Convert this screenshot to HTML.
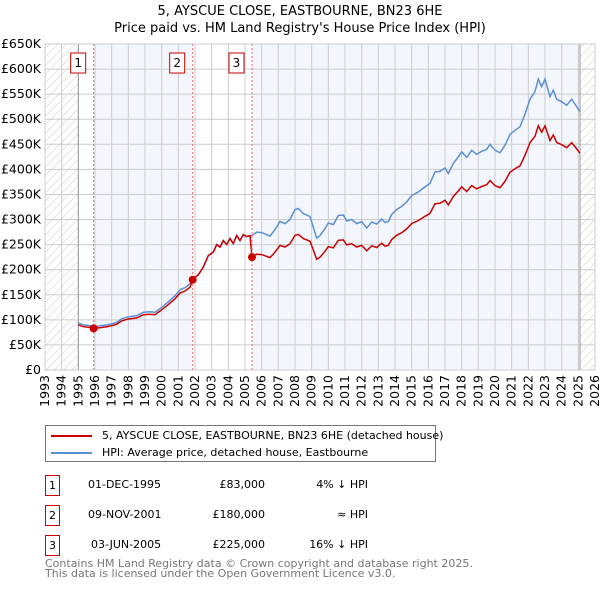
<!DOCTYPE html>
<html><head><meta charset="utf-8"><style>
body{margin:0;background:#fff;font-family:"DejaVu Sans","Liberation Sans",sans-serif;}
svg{display:block}
#tbl div{white-space:nowrap}
</style></head><body>
<svg id="c" width="600" height="590" xmlns="http://www.w3.org/2000/svg"></svg>
<script>
const hpiYears=[1995.0,1995.3,1995.6,1995.92,1996.3,1996.7,1997.0,1997.3,1997.6,1998.0,1998.5,1998.9,1999.3,1999.6,2000.0,2000.4,2000.8,2001.1,2001.4,2001.7,2001.86,2002.2,2002.5,2002.8,2003.1,2003.3,2003.5,2003.7,2003.9,2004.1,2004.3,2004.5,2004.7,2004.9,2005.1,2005.3,2005.42,2005.7,2006.0,2006.5,2006.8,2007.1,2007.4,2007.7,2008.0,2008.2,2008.5,2008.9,2009.1,2009.3,2009.5,2009.8,2010.0,2010.3,2010.6,2010.9,2011.1,2011.4,2011.7,2012.0,2012.3,2012.6,2012.9,2013.2,2013.4,2013.6,2013.8,2014.1,2014.4,2014.7,2015.0,2015.4,2015.8,2016.1,2016.4,2016.7,2017.0,2017.2,2017.5,2017.8,2018.0,2018.3,2018.6,2018.9,2019.2,2019.5,2019.7,2020.0,2020.3,2020.6,2020.9,2021.2,2021.5,2021.8,2022.1,2022.4,2022.6,2022.8,2023.0,2023.3,2023.5,2023.7,2024.0,2024.3,2024.6,2024.9,2025.1];
const hpiValues=[94,90,89,86.5,88,90,92,95,102,106,108,115,116,115,125,136,148,160,164,172,180,190,205,228,235,250,245,258,250,262,252,268,258,270,266,268,268,275,274,267,280,296,292,300,320,322,312,306,285,263,268,282,293,290,308,309,297,300,292,296,283,295,291,301,294,296,310,320,326,335,348,355,365,372,395,396,403,392,412,425,435,424,438,430,436,440,450,438,433,448,470,478,485,510,540,555,580,565,580,545,558,540,535,528,540,525,515];
const saleYears=[1995.92,2001.86,2005.42];
const salePrices=[83,180,225];
const saleLabels=["1","2","3"];
const yTicks=[0,50,100,150,200,250,300,350,400,450,500,550,600,650];
const yTickLabels=["£0","£50K","£100K","£150K","£200K","£250K","£300K","£350K","£400K","£450K","£500K","£550K","£600K","£650K"];
const xTicks=[1993,1994,1995,1996,1997,1998,1999,2000,2001,2002,2003,2004,2005,2006,2007,2008,2009,2010,2011,2012,2013,2014,2015,2016,2017,2018,2019,2020,2021,2022,2023,2024,2025,2026];

const svg=document.getElementById('c');const NS='http://www.w3.org/2000/svg';
const L=45,R=595,T=44,B=370,X0=1993,X1=2026,YMAX=650;
const sx=y=>L+(y-X0)/(X1-X0)*(R-L);
const sy=v=>B-v/YMAX*(B-T);
function mk(tag,attrs,parent){const e=document.createElementNS(NS,tag);for(const k in attrs)e.setAttribute(k,attrs[k]);(parent||svg).appendChild(e);return e;}

const defs=mk('defs',{});
const pat=mk('pattern',{id:'hatch',width:6,height:6,patternUnits:'userSpaceOnUse',patternTransform:'rotate(45)'},defs);
mk('line',{x1:0,y1:0,x2:0,y2:6,stroke:'#ccc','stroke-width':1},pat);

let e;
e=mk('rect',{x:L,y:T,width:R-L,height:B-T,fill:'#fff'});


e=mk('rect',{x:L,y:T,width:sx(1995)-L,height:B-T,fill:'url(#hatch)'});


e=mk('rect',{x:sx(2025.1),y:T,width:R-sx(2025.1),height:B-T,fill:'url(#hatch)'});


e=mk('rect',{x:sx(saleYears[0]),y:T,width:sx(saleYears[1])-sx(saleYears[0]),height:B-T,fill:'#eef3fc',opacity:0.7});


e=mk('rect',{x:sx(saleYears[2]),y:T,width:sx(2025.1)-sx(saleYears[2]),height:B-T,fill:'#eef3fc',opacity:0.7});



for(let i=0;i<yTicks.length;i++){
  e=mk('line',{x1:L,x2:R,y1:sy(yTicks[i]),y2:sy(yTicks[i]),stroke:'#ccc','stroke-width':1});
  
  
  e=mk('text',{x:L-4,y:sy(yTicks[i])+4,'text-anchor':'end','font-size':12.5,fill:'#000'});
  e.textContent=yTickLabels[i];
  
  
}
for(const t of xTicks){
  e=mk('line',{x1:sx(t),x2:sx(t),y1:T,y2:B,stroke:'#ccc','stroke-width':1});
  
  
  e=mk('text',{x:0,y:0,'text-anchor':'end','font-size':12.5,fill:'#000',transform:`translate(${sx(t)+4},${B+5}) rotate(-90)`});
  e.textContent=t;
  
  
}
e=mk('line',{x1:sx(1995),x2:sx(1995),y1:T,y2:B,stroke:'#999','stroke-width':1});


e=mk('line',{x1:sx(2025.1),x2:sx(2025.1),y1:T,y2:B,stroke:'#999','stroke-width':1});



function hpiAt(y){for(let i=0;i<hpiYears.length-1;i++){if(y>=hpiYears[i]&&y<=hpiYears[i+1]){const f=(y-hpiYears[i])/(hpiYears[i+1]-hpiYears[i]);return hpiValues[i]+f*(hpiValues[i+1]-hpiValues[i]);}}return hpiValues[hpiValues.length-1];}
function scaleAt(y){let k=0;for(let i=0;i<saleYears.length;i++){if(y>=saleYears[i]-1e-9)k=i;}return salePrices[k]/hpiAt(saleYears[k]);}

let dB='';hpiYears.forEach((y,i)=>{dB+=(i?'L':'M')+sx(y).toFixed(1)+','+sy(hpiValues[i]).toFixed(1);});
e=mk('path',{d:dB,fill:'none',stroke:'#5b8fd4','stroke-width':1.5});



let dR='';
hpiYears.forEach((y,i)=>{
  for(let s=0;s<saleYears.length;s++){
    if(i>0&&hpiYears[i-1]<saleYears[s]&&y>saleYears[s]){const h=hpiAt(saleYears[s]);dR+='L'+sx(saleYears[s]).toFixed(1)+','+sy(h*scaleAt(saleYears[s]-0.001)).toFixed(1)+'L'+sx(saleYears[s]).toFixed(1)+','+sy(salePrices[s]).toFixed(1);}
  }
  dR+=(i?'L':'M')+sx(y).toFixed(1)+','+sy(hpiValues[i]*scaleAt(y)).toFixed(1);
});
e=mk('path',{d:dR,fill:'none',stroke:'#cc0000','stroke-width':1.5});



for(let i=0;i<saleYears.length;i++){
  e=mk('line',{x1:sx(saleYears[i]),x2:sx(saleYears[i]),y1:T,y2:B,stroke:'#ee6666','stroke-width':1,'stroke-dasharray':'2,2'});
  
  
  e=mk('circle',{cx:sx(saleYears[i]),cy:sy(salePrices[i]),r:4,fill:'#cc0000'});
  
  
  const g=mk('g',{});
  
  
  mk('rect',{x:sx(saleYears[i])-23,y:53,width:15,height:20,fill:'#fff',stroke:'#cc0000','stroke-width':1},g);
  const t=mk('text',{x:sx(saleYears[i])-15.5,y:67,'text-anchor':'middle','font-size':12,fill:'#000'},g);
  t.textContent=saleLabels[i];
}
e=mk('rect',{x:L,y:T,width:R-L,height:B-T,fill:'none',stroke:'#ccc'});


</script>
<div style="position:absolute;left:0;top:3px;width:600px;text-align:center;font-size:13px;line-height:17px;color:#000">5, AYSCUE CLOSE, EASTBOURNE, BN23 6HE<br>Price paid vs. HM Land Registry's House Price Index (HPI)</div>
<div style="position:absolute;left:45px;top:425px;width:389px;height:35px;border:1px solid #777;font-size:11px">
 <div style="position:absolute;left:5px;top:3px;white-space:nowrap"><span style="display:inline-block;width:41px;height:2px;background:#cc0000;vertical-align:middle;margin-right:10px"></span>5, AYSCUE CLOSE, EASTBOURNE, BN23 6HE (detached house)</div>
 <div style="position:absolute;left:5px;top:20px;white-space:nowrap"><span style="display:inline-block;width:41px;height:2px;background:#5b8fd4;vertical-align:middle;margin-right:10px"></span>HPI: Average price, detached house, Eastbourne</div>
</div>
<div id="tbl" style="position:absolute;left:0;top:0;font-size:11px">
 <div>
  <div style="position:absolute;left:45px;top:475px;width:13px;height:19px;border:1px solid #cc0000;text-align:center;line-height:19px">1</div>
  <div style="position:absolute;left:88px;top:478px">01-DEC-1995</div>
  <div style="position:absolute;left:200px;width:65px;top:478px;text-align:right">£83,000</div>
  <div style="position:absolute;left:290px;width:78px;top:478px;text-align:right">4% ↓ HPI</div>
 </div>
 <div>
  <div style="position:absolute;left:45px;top:505px;width:13px;height:19px;border:1px solid #cc0000;text-align:center;line-height:19px">2</div>
  <div style="position:absolute;left:88px;top:508px">09-NOV-2001</div>
  <div style="position:absolute;left:200px;width:65px;top:508px;text-align:right">£180,000</div>
  <div style="position:absolute;left:290px;width:78px;top:508px;text-align:right">≈ HPI</div>
 </div>
 <div>
  <div style="position:absolute;left:45px;top:535px;width:13px;height:19px;border:1px solid #cc0000;text-align:center;line-height:19px">3</div>
  <div style="position:absolute;left:91px;top:538px">03-JUN-2005</div>
  <div style="position:absolute;left:200px;width:65px;top:538px;text-align:right">£225,000</div>
  <div style="position:absolute;left:290px;width:78px;top:538px;text-align:right">16% ↓ HPI</div>
 </div>
</div>
<div style="position:absolute;left:45px;top:559px;font-size:11px;line-height:10px;color:#777;white-space:nowrap">Contains HM Land Registry data © Crown copyright and database right 2025.<br>This data is licensed under the Open Government Licence v3.0.</div>
</body></html>
